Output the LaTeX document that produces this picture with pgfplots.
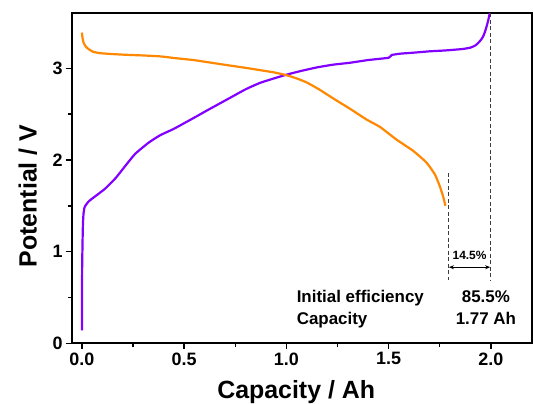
\documentclass[border=0pt]{standalone}
\usepackage{pgfplots}
\pgfplotsset{compat=1.18}
\usepackage{fontspec}
\setmainfont{Liberation Sans}
\usetikzlibrary{arrows.meta}

\definecolor{dischg}{RGB}{255,136,0}
\definecolor{chg}{RGB}{130,0,255}
\definecolor{guide}{RGB}{60,60,60}

\begin{document}
\begin{tikzpicture}
\begin{axis}[
  name=ax,
  scale only axis,
  width=460bp, height=330bp,
  xmin=-0.05, xmax=2.2,
  ymin=0, ymax=3.6,
  xtick={0,0.5,1,1.5,2},
  ytick={0,1,2,3},
  minor x tick num=1,
  minor y tick num=1,
  xtick pos=bottom, ytick pos=left,
  tick align=outside,
  major tick length=5.7bp,
  minor tick length=3.8bp,
  every tick/.style={black, line width=1.5bp},
  axis line style={line width=1.8bp},
  /pgf/number format/assume math mode=true,
  xticklabel style={/pgf/number format/fixed, /pgf/number format/fixed zerofill,
    /pgf/number format/precision=1},
  ticklabel style={font=\bfseries\fontsize{18}{18}\selectfont},
  xlabel={Capacity / Ah},
  ylabel={Potential / V},
  label style={font=\bfseries\fontsize{25}{25}\selectfont},
  xlabel style={at={(axis description cs:0.488,-0.168)}, anchor=base},
  ylabel style={at={(axis description cs:-0.076,0.446)}, anchor=base},
  clip=false,
]

% charge curve
\addplot[chg, line width=2.2bp, smooth, tension=0.3] coordinates {
(0.000,0.14) (0.001,0.80) (0.003,1.10) (0.005,1.30) (0.008,1.42)
(0.014,1.49) (0.034,1.55) (0.075,1.62) (0.115,1.69) (0.164,1.80)
(0.221,1.96) (0.262,2.07) (0.327,2.19) (0.383,2.27) (0.450,2.34)
(0.540,2.45) (0.620,2.55) (0.710,2.66) (0.800,2.77) (0.870,2.84)
(0.940,2.89) (1.000,2.93) (1.070,2.97) (1.150,3.01) (1.230,3.04)
(1.310,3.06) (1.400,3.09) (1.500,3.115) (1.515,3.145) (1.560,3.16)
(1.620,3.17) (1.700,3.185) (1.780,3.195) (1.860,3.21) (1.900,3.225)
(1.925,3.25) (1.940,3.28) (1.955,3.32) (1.965,3.36) (1.976,3.43)
(1.987,3.52) (1.995,3.60)
};

% discharge curve
\addplot[dischg, line width=2.2bp, smooth, tension=0.3] coordinates {
(0.000,3.39) (0.003,3.33) (0.008,3.28) (0.018,3.24) (0.032,3.21)
(0.055,3.18) (0.089,3.165) (0.150,3.155) (0.220,3.147) (0.300,3.14)
(0.383,3.13) (0.460,3.11) (0.545,3.09) (0.620,3.065) (0.709,3.035)
(0.800,3.005) (0.871,2.98) (0.940,2.955) (1.000,2.925) (1.050,2.89)
(1.100,2.845) (1.160,2.77) (1.230,2.67) (1.310,2.56) (1.393,2.44)
(1.458,2.36) (1.540,2.22) (1.620,2.10) (1.686,1.97) (1.727,1.84)
(1.751,1.71) (1.767,1.60) (1.778,1.50)
};

% capacity markers
\addplot[guide, line width=0.9bp, dash pattern=on 4bp off 2.5bp] coordinates {(1.792,1.86) (1.792,0.69)};
\addplot[guide, line width=0.9bp, dash pattern=on 4bp off 2.5bp] coordinates {(2.0,3.6) (2.0,0.69)};
\addplot[black, line width=0.9bp, {Stealth[length=5bp,width=4bp]}-{Stealth[length=5bp,width=4bp]}] coordinates {(1.795,0.83) (1.997,0.83)};

\node[anchor=base, font=\bfseries\fontsize{12}{12}\selectfont, inner sep=0pt] at (axis cs:1.896,0.91) {14.5\%};

\node[anchor=base west, inner sep=0pt, font=\bfseries\fontsize{17}{17}\selectfont] at (axis cs:1.05,0.444) {Initial efficiency};
\node[anchor=base west, inner sep=0pt, font=\bfseries\fontsize{17}{17}\selectfont] at (axis cs:1.05,0.21) {Capacity};
\node[anchor=base, inner sep=0pt, font=\bfseries\fontsize{17}{17}\selectfont] at (axis cs:1.976,0.444) {85.5\%};
\node[anchor=base, inner sep=0pt, font=\bfseries\fontsize{17}{17}\selectfont] at (axis cs:1.976,0.21) {1.77 Ah};
\end{axis}
\pgfresetboundingbox
\path[use as bounding box] ([shift={(-71.7bp,-60.7bp)}]ax.south west) rectangle ([shift={(1.3bp,13.3bp)}]ax.north east);
\end{tikzpicture}
\end{document}
